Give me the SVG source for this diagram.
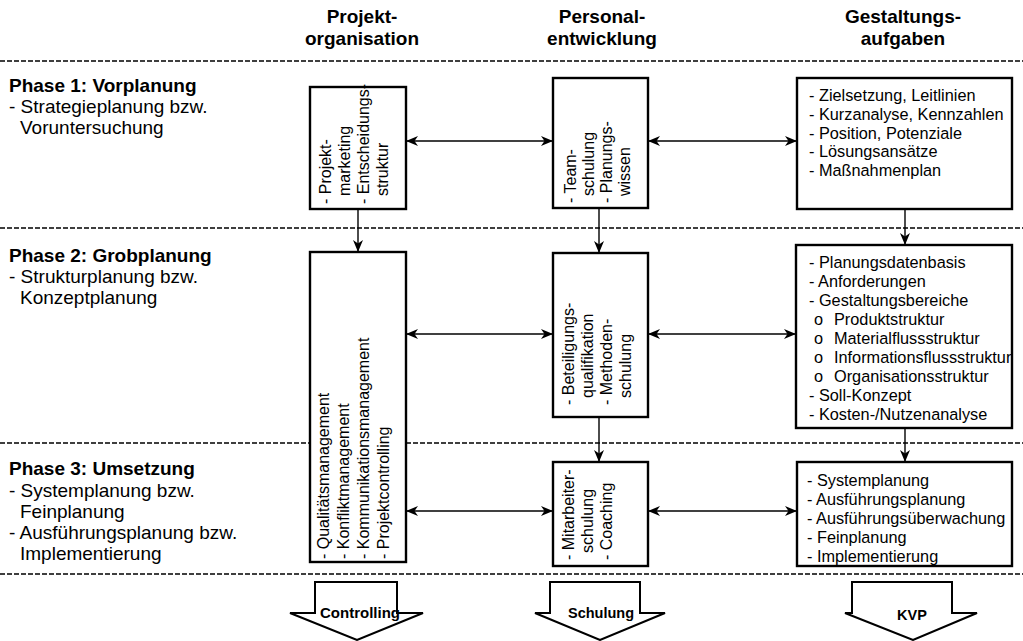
<svg xmlns="http://www.w3.org/2000/svg" width="1023" height="641" viewBox="0 0 1023 641">
<style>
text{font-family:"Liberation Sans",Arial,sans-serif;fill:#000}
.hd{font-size:19px;font-weight:bold;text-anchor:middle}
.ph{font-size:19px;font-weight:bold}
.pt{font-size:19px}
.bt{font-size:16.3px}
.rt{font-size:16px}
.ba{font-size:15px;font-weight:bold;text-anchor:middle}
.box{fill:#fff;stroke:#000;stroke-width:2.4}
.sep{stroke:#000;stroke-width:1.3;stroke-dasharray:5 2;fill:none}
.con{stroke:#000;stroke-width:1.4;fill:none}
.blk{fill:#fff;stroke:#000;stroke-width:2;stroke-linejoin:miter}
</style>
<defs>
<marker id="ah" viewBox="0 0 12 10" refX="12" refY="5" markerWidth="12" markerHeight="10" markerUnits="userSpaceOnUse" orient="auto-start-reverse">
<path d="M0,0 L12,5 L0,10 L3.5,5 Z" fill="#000"/>
</marker>
</defs>
<rect width="1023" height="641" fill="#fff"/>

<g id="headers">
<text class="hd" x="362" y="23">Projekt-</text>
<text class="hd" x="362" y="45">organisation</text>
<text class="hd" x="602" y="23">Personal-</text>
<text class="hd" x="602" y="45">entwicklung</text>
<text class="hd" x="903" y="23">Gestaltungs-</text>
<text class="hd" x="903" y="45">aufgaben</text>
</g>

<g id="separators">
<line class="sep" x1="0" y1="61" x2="1023" y2="61"/>
<line class="sep" x1="0" y1="228" x2="1023" y2="228"/>
<line class="sep" x1="0" y1="443" x2="1023" y2="443"/>
<line class="sep" x1="0" y1="574" x2="1023" y2="574"/>
</g>

<g id="phase1">
<text class="ph" x="9" y="92">Phase 1: Vorplanung</text>
<text class="pt" x="9" y="113">- Strategieplanung bzw.</text>
<text class="pt" x="20" y="134">Voruntersuchung</text>
</g>
<g id="phase2">
<text class="ph" x="9" y="262">Phase 2: Grobplanung</text>
<text class="pt" x="9" y="283">- Strukturplanung bzw.</text>
<text class="pt" x="20" y="304">Konzeptplanung</text>
</g>
<g id="phase3">
<text class="ph" x="9" y="475">Phase 3: Umsetzung</text>
<text class="pt" x="9" y="497">- Systemplanung bzw.</text>
<text class="pt" x="20" y="518">Feinplanung</text>
<text class="pt" x="9" y="539">- Ausführungsplanung bzw.</text>
<text class="pt" x="20" y="560">Implementierung</text>
</g>

<g id="connectors">
<line class="con" x1="406" y1="141" x2="553" y2="141" marker-start="url(#ah)" marker-end="url(#ah)"/>
<line class="con" x1="648" y1="141" x2="797" y2="141" marker-start="url(#ah)" marker-end="url(#ah)"/>
<line class="con" x1="406" y1="334" x2="553" y2="334" marker-start="url(#ah)" marker-end="url(#ah)"/>
<line class="con" x1="648" y1="334" x2="796" y2="334" marker-start="url(#ah)" marker-end="url(#ah)"/>
<line class="con" x1="406" y1="511" x2="553" y2="511" marker-start="url(#ah)" marker-end="url(#ah)"/>
<line class="con" x1="648" y1="511" x2="797" y2="511" marker-start="url(#ah)" marker-end="url(#ah)"/>
<line class="con" x1="358" y1="209" x2="358" y2="252" marker-end="url(#ah)"/>
<line class="con" x1="599" y1="208" x2="599" y2="253" marker-end="url(#ah)"/>
<line class="con" x1="905" y1="209" x2="905" y2="245" marker-end="url(#ah)"/>
<line class="con" x1="599" y1="417" x2="599" y2="462" marker-end="url(#ah)"/>
<line class="con" x1="905" y1="428" x2="905" y2="462" marker-end="url(#ah)"/>
</g>

<g id="proj1">
<rect class="box" x="310" y="87" width="96" height="122"/>
<text class="rt" transform="translate(331,204) rotate(-90)">- Projekt-</text>
<text class="rt" transform="translate(350,196) rotate(-90)">marketing</text>
<text class="rt" transform="translate(369,204) rotate(-90)">- Entscheidungs-</text>
<text class="rt" transform="translate(388,196) rotate(-90)">struktur</text>
</g>

<g id="proj23">
<rect class="box" x="310" y="252" width="96" height="310"/>
<text class="rt" transform="translate(329,559) rotate(-90)">- Qualitätsmanagement</text>
<text class="rt" transform="translate(349,559) rotate(-90)">- Konfliktmanagement</text>
<text class="rt" transform="translate(369,559) rotate(-90)">- Kommunikationsmanagement</text>
<text class="rt" transform="translate(389,559) rotate(-90)">- Projektcontrolling</text>
</g>

<g id="pers1">
<rect class="box" x="553" y="78" width="95" height="130"/>
<text class="rt" transform="translate(576,203) rotate(-90)">- Team-</text>
<text class="rt" transform="translate(594,196) rotate(-90)">schulung</text>
<text class="rt" transform="translate(612,203) rotate(-90)">- Planungs-</text>
<text class="rt" transform="translate(630,196) rotate(-90)">wissen</text>
</g>

<g id="pers2">
<rect class="box" x="553" y="253" width="95" height="164"/>
<text class="rt" transform="translate(574,405) rotate(-90)">- Beteiligungs-</text>
<text class="rt" transform="translate(593,398) rotate(-90)">qualifikation</text>
<text class="rt" transform="translate(612,405) rotate(-90)">- Methoden-</text>
<text class="rt" transform="translate(631,398) rotate(-90)">schulung</text>
</g>

<g id="pers3">
<rect class="box" x="553" y="462" width="95" height="104"/>
<text class="rt" transform="translate(574,560) rotate(-90)">- Mitarbeiter-</text>
<text class="rt" transform="translate(593,553) rotate(-90)">schulung</text>
<text class="rt" transform="translate(612,560) rotate(-90)">- Coaching</text>
</g>

<g id="gest1">
<rect class="box" x="797" y="78" width="215" height="131"/>
<text class="bt" x="809" y="101">- Zielsetzung, Leitlinien</text>
<text class="bt" x="809" y="120">- Kurzanalyse, Kennzahlen</text>
<text class="bt" x="809" y="139">- Position, Potenziale</text>
<text class="bt" x="809" y="157">- Lösungsansätze</text>
<text class="bt" x="809" y="176">- Maßnahmenplan</text>
</g>

<g id="gest2">
<rect class="box" x="796" y="245" width="216" height="183"/>
<text class="bt" x="809" y="268">- Planungsdatenbasis</text>
<text class="bt" x="809" y="287">- Anforderungen</text>
<text class="bt" x="809" y="306">- Gestaltungsbereiche</text>
<text class="bt" x="814" y="325">o</text><text class="bt" x="834" y="325">Produktstruktur</text>
<text class="bt" x="814" y="344">o</text><text class="bt" x="834" y="344">Materialflussstruktur</text>
<text class="bt" x="814" y="363">o</text><text class="bt" x="834" y="363">Informationsflussstruktur</text>
<text class="bt" x="814" y="382">o</text><text class="bt" x="834" y="382">Organisationsstruktur</text>
<text class="bt" x="809" y="401">- Soll-Konzept</text>
<text class="bt" x="809" y="420">- Kosten-/Nutzenanalyse</text>
</g>

<g id="gest3">
<rect class="box" x="797" y="462" width="215" height="104"/>
<text class="bt" x="807" y="486">- Systemplanung</text>
<text class="bt" x="807" y="505">- Ausführungsplanung</text>
<text class="bt" x="807" y="524">- Ausführungsüberwachung</text>
<text class="bt" x="807" y="543">- Feinplanung</text>
<text class="bt" x="807" y="562">- Implementierung</text>
</g>

<g id="out-controlling">
<path class="blk" d="M315,582 L397,582 L397,613 L423,613 L357,640 L290,613 L315,613 Z"/>
<text class="ba" x="360" y="618">Controlling</text>
</g>
<g id="out-schulung">
<path class="blk" d="M550,582 L640,582 L640,613 L665,613 L600,640 L535,613 L550,613 Z"/>
<text class="ba" x="601" y="618" style="font-size:14.5px">Schulung</text>
</g>
<g id="out-kvp">
<path class="blk" d="M852,582 L952,582 L952,613 L977,613 L913,640 L845,613 L852,613 Z"/>
<text class="ba" x="912" y="620" style="font-size:14.5px">KVP</text>
</g>
</svg>
